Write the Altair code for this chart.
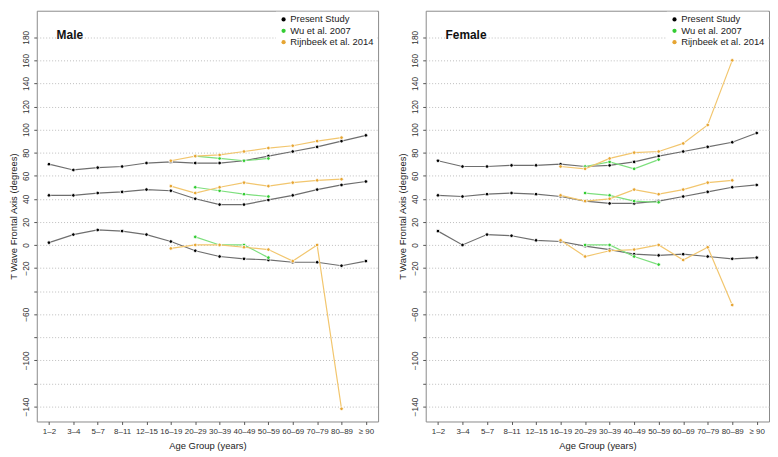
import altair as alt
import pandas as pd

ages = ["1–2", "3–4", "5–7", "8–11", "12–15", "16–19", "20–29", "30–39",
        "40–49", "50–59", "60–69", "70–79", "80–89", "≥ 90"]
series_names = ["Present Study", "Wu et al. 2007", "Rijnbeek et al. 2014"]
N = None

# ---- Male ----
male_present_upper = [70, 65, 67, 68, 71, 72, 71, 71, 73, 77, 81, 85, 90, 95]
male_present_median = [43, 43, 45, 46, 48, 47, 40, 35, 35, 39, 43, 48, 52, 55]
male_present_lower = [2, 9, 13, 12, 9, 3, -5, -10, -12, -13, -15, -15, -18, -14]
male_wu_upper = [N, N, N, N, N, N, 77, 75, 73, 75, N, N, N, N]
male_wu_median = [N, N, N, N, N, N, 50, 47, 44, 42, N, N, N, N]
male_wu_lower = [N, N, N, N, N, N, 7, 0, 0, -11, N, N, N, N]
male_rij_upper = [N, N, N, N, N, 73, 77, 78, 81, 84, 86, 90, 93, N]
male_rij_median = [N, N, N, N, N, 51, 45, 50, 54, 51, 54, 56, 57, N]
male_rij_lower = [N, N, N, N, N, -3, 0, 0, -2, -4, -14, 0, -142, N]

# ---- Female ----
female_present_upper = [73, 68, 68, 69, 69, 70, 68, 69, 72, 77, 81, 85, 89, 97]
female_present_median = [43, 42, 44, 45, 44, 42, 38, 36, 36, 38, 42, 46, 50, 52]
female_present_lower = [12, 0, 9, 8, 4, 3, -1, -4, -8, -9, -8, -10, -12, -11]
female_wu_upper = [N, N, N, N, N, N, 68, 72, 66, 74, N, N, N, N]
female_wu_median = [N, N, N, N, N, N, 45, 43, 38, 37, N, N, N, N]
female_wu_lower = [N, N, N, N, N, N, 0, 0, -10, -17, N, N, N, N]
female_rij_upper = [N, N, N, N, N, 68, 66, 75, 80, 81, 88, 104, 160, N]
female_rij_median = [N, N, N, N, N, 43, 38, 40, 48, 44, 48, 54, 56, N]
female_rij_lower = [N, N, N, N, N, 4, -10, -5, -4, 0, -13, -2, -52, N]

line_colors = ["#6e6e6e", "#7ddf7d", "#f2c66e"]
point_colors = ["#000000", "#33cc33", "#e6a532"]
FONT = "Liberation Sans"

panels = {
    "Male": [
        ("Present Study", "upper", male_present_upper),
        ("Present Study", "median", male_present_median),
        ("Present Study", "lower", male_present_lower),
        ("Wu et al. 2007", "upper", male_wu_upper),
        ("Wu et al. 2007", "median", male_wu_median),
        ("Wu et al. 2007", "lower", male_wu_lower),
        ("Rijnbeek et al. 2014", "upper", male_rij_upper),
        ("Rijnbeek et al. 2014", "median", male_rij_median),
        ("Rijnbeek et al. 2014", "lower", male_rij_lower),
    ],
    "Female": [
        ("Present Study", "upper", female_present_upper),
        ("Present Study", "median", female_present_median),
        ("Present Study", "lower", female_present_lower),
        ("Wu et al. 2007", "upper", female_wu_upper),
        ("Wu et al. 2007", "median", female_wu_median),
        ("Wu et al. 2007", "lower", female_wu_lower),
        ("Rijnbeek et al. 2014", "upper", female_rij_upper),
        ("Rijnbeek et al. 2014", "median", female_rij_median),
        ("Rijnbeek et al. 2014", "lower", female_rij_lower),
    ],
}

y_ticks = list(range(-140, 181, 20))


def make_panel(name, width):
    rows = []
    for s, band, vals in panels[name]:
        for i, v in enumerate(vals):
            if v is not None:
                rows.append({"series": s, "study": s, "band": s + band,
                             "age": ages[i], "idx": i, "value": v})
    df = pd.DataFrame(rows)
    base = alt.Chart(df)
    x = alt.X("age:N", sort=ages,
              scale=alt.Scale(type="point", padding=0.5),
              axis=alt.Axis(title="Age Group (years)", labelAngle=0,
                            grid=False, tickSize=3, labelPadding=3,
                            labelFontSize=8, titleFontSize=9.5,
                            titlePadding=5, labelOverlap=False))
    y = alt.Y("value:Q",
              scale=alt.Scale(domain=[-153, 203], nice=False, zero=False),
              axis=alt.Axis(title="T Wave Frontal Axis (degrees)",
                            values=y_ticks,
                            labelExpr="(datum.value == -40 || datum.value == -80 || datum.value == -120) ? '' : datum.label",
                            labelAngle=270, labelAlign="center",
                            labelBaseline="bottom", tickSize=3,
                            labelPadding=3, labelFontSize=8.5,
                            titleFontSize=9.5, titlePadding=3,
                            grid=True, gridDash=[1, 2], gridColor="#bdbdbd",
                            labelOverlap=False))
    lines = base.mark_line(strokeWidth=1.2).encode(
        x=x, y=y,
        stroke=alt.Stroke("series:N",
                          scale=alt.Scale(domain=series_names[::-1],
                                          range=line_colors[::-1]),
                          legend=None),
        detail="band:N",
        order=alt.Order("idx:Q"),
    )
    points = base.mark_point(filled=True, size=13, opacity=1,
                             stroke="white", strokeWidth=0.8).encode(
        x=x, y=y,
        fill=alt.Fill("study:N", title=None,
                      scale=alt.Scale(domain=series_names, range=point_colors),
                      legend=alt.Legend(orient="top-right", offset=1,
                                        padding=3, fillColor="white",
                                        rowPadding=0.5, labelOffset=2,
                                        symbolSize=18, symbolType="circle",
                                        symbolStrokeWidth=0,
                                        labelFontSize=9.5, labelFont=FONT,
                                        labelColor="#222")),
    )
    label = alt.Chart(pd.DataFrame({"t": [name]})).mark_text(
        align="left", baseline="middle", fontWeight="bold", fontSize=12,
        font=FONT, color="#111"
    ).encode(text="t:N", x=alt.value(20), y=alt.value(24))
    return alt.layer(lines, points, label).properties(width=width, height=414)


left = make_panel("Male", 344)
right = make_panel("Female", 346)

chart = alt.hconcat(left, right, spacing=18).resolve_scale(
    stroke="independent", fill="independent"
).resolve_legend(fill="independent").properties(
    padding={"left": 0, "top": 0, "right": 0, "bottom": 0}
).configure_view(
    stroke="#8a8a8a", strokeWidth=1
).configure_axis(
    labelFont=FONT, titleFont=FONT, labelColor="#333", titleColor="#222",
    tickColor="#555", domain=False, titleFontWeight="normal"
)

chart.save("out.html", embed_options={"renderer": "svg", "actions": False})
